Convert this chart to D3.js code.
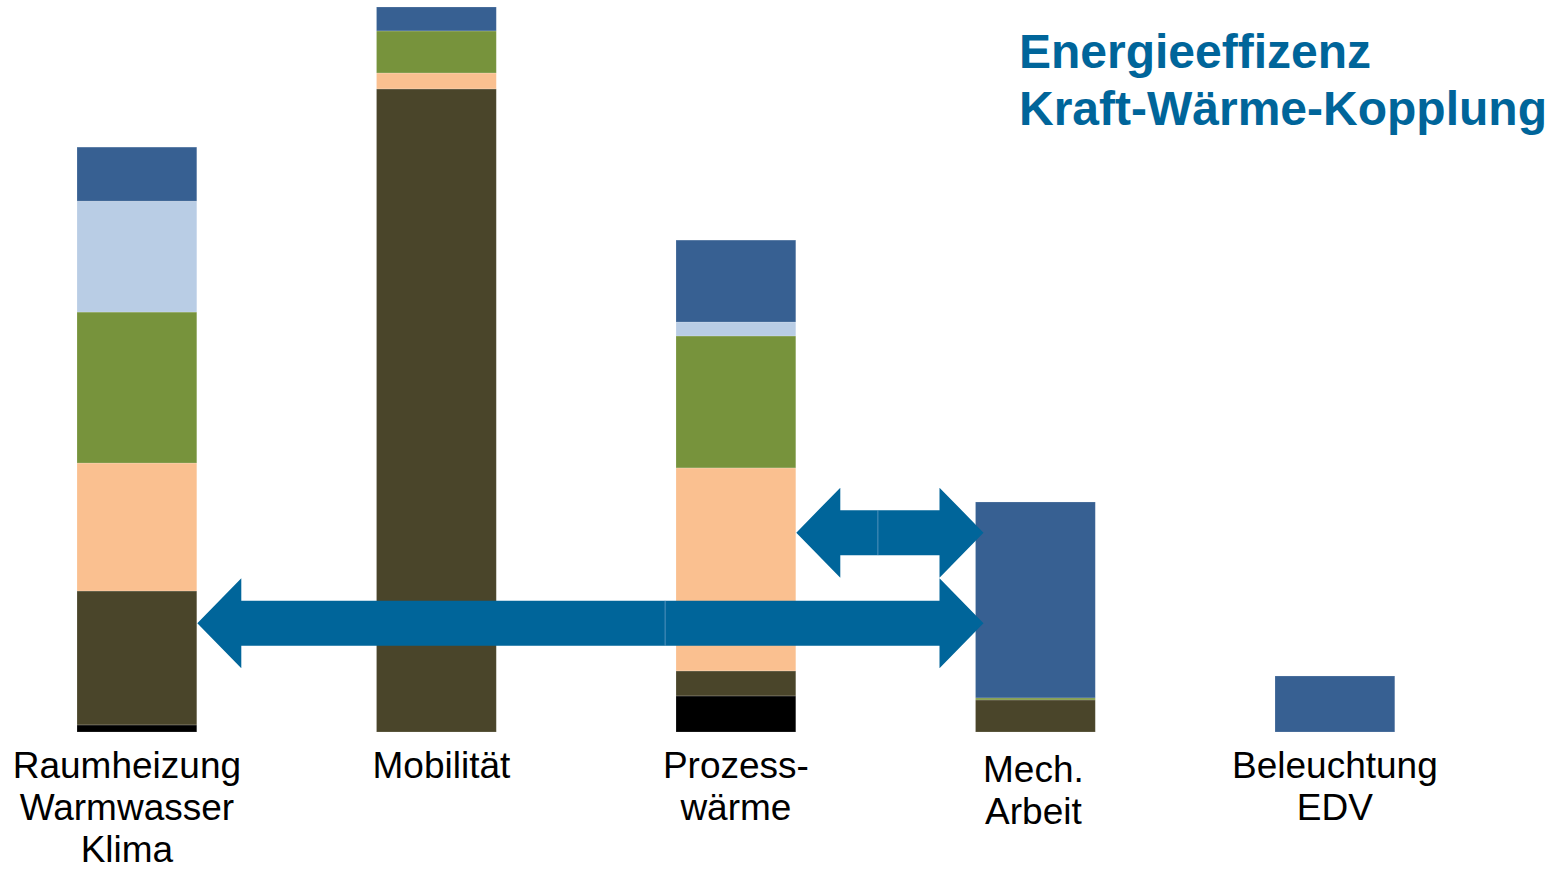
<!DOCTYPE html>
<html lang="de">
<head>
<meta charset="utf-8">
<title>Energieeinsatz nach Verwendungszweck</title>
<script src="https://cdn.jsdelivr.net/npm/d3@7"></script>
<style>
  html, body { margin: 0; padding: 0; background: #ffffff; }
  svg { display: block; }
</style>
</head>
<body>
<svg id="chart" width="1566" height="869"></svg>
<script>
// Verwendungszwecke (Kategorien) und ihre Beschriftungszeilen
const categories = ["Raumheizung", "Mobilität", "Prozesswärme", "Mech. Arbeit", "Beleuchtung"];
const categoryLabels = [
  ["Raumheizung", "Warmwasser", "Klima"],
  ["Mobilität"],
  ["Prozess-", "wärme"],
  ["Mech.", "Arbeit"],
  ["Beleuchtung", "EDV"]
];

// Energieträger, von unten nach oben gestapelt
const carriers = ["Kohle", "Öl", "Gas", "Erneuerbare", "Fernwärme", "Strom"];
const kohle       = [3.9,   0,     19.9,  0,     0];
const oel         = [73.9,  354.8, 13.8,  17.7,  0];
const gas         = [70.6,  8.8,   112.0, 0,     0];
const erneuerbare = [83.3,  23.2,  72.8,  1.1,   0];
const fernwaerme  = [61.2,  0,     7.7,   0,     0];
const strom       = [29.8,  13.2,  45.2,  108.1, 30.9];

const titleLines = ["Energieeffizenz", "Kraft-Wärme-Kopplung"];

// Pfeile zwischen Verwendungszwecken (Höhe in Dateneinheiten)
const arrows = [
  { from: "Raumheizung",  to: "Mech. Arbeit", level: 60,  split: 0.595 },
  { from: "Prozesswärme", to: "Mech. Arbeit", level: 110, split: 0.436 }
];

// ---- Darstellung ----
const colors = {
  "Kohle": "#000000",
  "Öl": "#4a452a",
  "Gas": "#fac090",
  "Erneuerbare": "#77933c",
  "Fernwärme": "#b9cde5",
  "Strom": "#376092"
};
const accent = "#00659a";
const labelNudge = {
  "Raumheizung": { dx: -10, dy: 0 },
  "Mobilität": { dx: 5, dy: 0 },
  "Mech. Arbeit": { dx: -2, dy: 4 }
};

const svg = d3.select("#chart");
const series = { "Kohle": kohle, "Öl": oel, "Gas": gas, "Erneuerbare": erneuerbare, "Fernwärme": fernwaerme, "Strom": strom };
const rows = categories.map((c, i) => {
  const r = { category: c };
  carriers.forEach(k => { r[k] = series[k][i]; });
  return r;
});

const x = d3.scaleBand()
  .domain(categories)
  .range([77, 1394.8])
  .paddingInner(0.6)
  .paddingOuter(0);

const y = d3.scaleLinear()
  .domain([0, 400])
  .range([732, 7]);

const stacked = d3.stack().keys(carriers)(rows);

// Gestapelte Säulen
const layers = svg.append("g").attr("class", "bars")
  .selectAll("g")
  .data(stacked)
  .join("g")
  .attr("fill", d => colors[d.key]);

layers.selectAll("rect")
  .data(d => d.filter(s => s[1] - s[0] > 0))
  .join("rect")
  .attr("x", d => x(d.data.category))
  .attr("y", d => y(d[1]))
  .attr("width", x.bandwidth())
  .attr("height", d => y(d[0]) - y(d[1]))
  .attr("stroke", "#ffffff")
  .attr("stroke-opacity", 0.25)
  .attr("stroke-width", 0.7);

// Doppelpfeile, jeweils aus zwei Hälften zusammengesetzt
const headLen = 44, headHalf = 45, shaftHalf = 22.5;
function arrowHalf(tipX, endX, cy) {
  const dir = Math.sign(endX - tipX);
  const baseX = tipX + dir * headLen;
  return [
    [tipX, cy],
    [baseX, cy - headHalf],
    [baseX, cy - shaftHalf],
    [endX, cy - shaftHalf],
    [endX, cy + shaftHalf],
    [baseX, cy + shaftHalf],
    [baseX, cy + headHalf]
  ];
}
const line = d3.line();
const arrowG = svg.append("g").attr("class", "arrows");
arrows.forEach(a => {
  const left = x(a.from) + x.bandwidth() + 0.5;
  const right = x(a.to) + 8;
  const seam = left + (right - left) * a.split;
  const cy = y(a.level);
  arrowG.append("path")
    .attr("d", line(arrowHalf(left, seam, cy)) + "Z")
    .attr("fill", accent);
  arrowG.append("path")
    .attr("d", line(arrowHalf(right, seam, cy)) + "Z")
    .attr("fill", accent);
  arrowG.append("line")
    .attr("x1", seam).attr("x2", seam)
    .attr("y1", cy - shaftHalf).attr("y2", cy + shaftHalf)
    .attr("stroke", "#5b97c0")
    .attr("stroke-width", 0.8);
});

// Kategorienbeschriftung
const labelG = svg.append("g").attr("class", "labels")
  .attr("font-family", "Liberation Sans, Arial, sans-serif")
  .attr("font-size", 37)
  .attr("fill", "#000000")
  .attr("text-anchor", "middle");

categories.forEach((c, i) => {
  const n = labelNudge[c] || { dx: 0, dy: 0 };
  const cx = x(c) + x.bandwidth() / 2 + n.dx;
  const t = labelG.append("text")
    .attr("x", cx)
    .attr("y", y(0) + 46 + n.dy);
  categoryLabels[i].forEach((ln, j) => {
    t.append("tspan")
      .attr("x", cx)
      .attr("dy", j === 0 ? 0 : 42)
      .text(ln);
  });
});

// Titel
const title = svg.append("text")
  .attr("x", 1019)
  .attr("y", 68)
  .attr("font-family", "Liberation Sans, Arial, sans-serif")
  .attr("font-size", 48)
  .attr("font-weight", "bold")
  .attr("fill", accent);
titleLines.forEach((ln, j) => {
  title.append("tspan")
    .attr("x", 1019)
    .attr("dy", j === 0 ? 0 : 57)
    .text(ln);
});
</script>
</body>
</html>
